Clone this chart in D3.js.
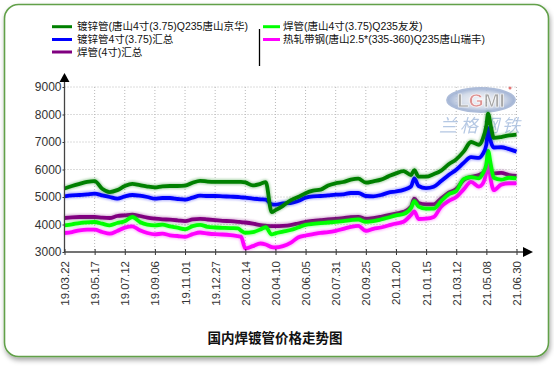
<!DOCTYPE html>
<html><head><meta charset="utf-8">
<script src="https://cdn.jsdelivr.net/npm/d3@7"></script>
<style>
html,body{margin:0;padding:0;background:#fff;}
svg{display:block;}
</style></head>
<body>
<svg id="c" width="554" height="369"></svg>
<script>
// ---------- DATA ----------
const tickLabels = ["19.03.22","19.05.17","19.07.12","19.09.06","19.11.01","19.12.27","20.02.14","20.04.10","20.06.05","20.07.31","20.09.25","20.11.20","21.01.15","21.03.12","21.05.08","21.06.30"];
const tickDates = ["2019-03-22","2019-05-17","2019-07-12","2019-09-06","2019-11-01","2019-12-27","2020-02-14","2020-04-10","2020-06-05","2020-07-31","2020-09-25","2020-11-20","2021-01-15","2021-03-12","2021-05-08","2021-06-30"];
const yTicks = [3000,4000,5000,6000,7000,8000,9000];
const dates = ["2019-03-22","2019-04-05","2019-04-19","2019-05-03","2019-05-17","2019-05-31","2019-06-14","2019-06-28","2019-07-12","2019-07-26","2019-08-09","2019-08-23","2019-09-06","2019-09-20","2019-10-04","2019-10-18","2019-11-01","2019-11-15","2019-11-29","2019-12-13","2019-12-27","2020-01-08","2020-01-21","2020-02-02","2020-02-07","2020-02-14","2020-02-28","2020-03-13","2020-03-23","2020-04-03","2020-04-10","2020-04-24","2020-05-08","2020-05-22","2020-06-05","2020-06-19","2020-07-03","2020-07-17","2020-07-31","2020-08-14","2020-08-28","2020-09-11","2020-09-25","2020-10-09","2020-10-23","2020-11-06","2020-11-20","2020-12-04","2020-12-18","2020-12-24","2021-01-01","2021-01-15","2021-01-29","2021-02-12","2021-02-26","2021-03-12","2021-03-26","2021-04-09","2021-04-24","2021-05-01","2021-05-08","2021-05-11","2021-05-16","2021-05-21","2021-06-03","2021-06-17","2021-06-30"];
const seriesNames = ["镀锌管(唐山4寸(3.75)Q235唐山京华)","镀锌管4寸(3.75)汇总","焊管(4寸)汇总","焊管(唐山4寸(3.75)Q235友发)","热轧带钢(唐山2.5*(335-360)Q235唐山瑞丰)"];
const colors = ["#008000","#0000ff","#800080","#00ff00","#ff00ff"];
const galvJinghua = [5310,5400,5480,5550,5580,5300,5180,5250,5400,5480,5430,5380,5350,5390,5400,5400,5410,5520,5590,5560,5550,5550,5550,5550,5550,5530,5420,5480,5540,4450,4520,4680,4880,5000,5140,5230,5266,5420,5500,5545,5630,5670,5520,5570,5630,5750,5860,5940,5800,5980,5740,5740,5830,5960,6190,6370,6650,7000,6900,7100,7600,8030,7560,7150,7180,7240,7270];
const galvSummary = [5024,5060,5073,5097,5121,5060,5000,4940,5024,5073,5048,5000,4940,4964,4964,4927,4903,4976,5048,5036,5036,5024,5012,5000,4988,4976,4940,4915,4903,4733,4721,4770,4780,4854,4976,5024,5036,5060,5085,5097,5145,5145,5036,5024,5073,5157,5200,5260,5380,5680,5400,5320,5370,5580,5800,5990,6240,6450,6420,6560,6900,7500,7000,6800,6810,6740,6650];
const weldSummary = [4236,4260,4272,4272,4272,4248,4236,4309,4333,4357,4309,4248,4212,4188,4176,4151,4121,4182,4206,4182,4158,4133,4121,4097,4085,4073,4036,3976,3955,3940,3939,3952,3980,4036,4097,4133,4158,4182,4206,4230,4267,4279,4206,4230,4279,4339,4400,4460,4650,4940,4780,4730,4730,4950,5160,5290,5620,5730,5800,5870,6000,6270,5950,5860,5880,5800,5770];
const weldYoufa = [3970,4006,4054,4079,4091,4030,3970,4054,4115,4273,4091,3994,3970,3994,3933,3885,3830,3940,3988,3915,3891,3879,3867,3860,3780,3700,3720,3820,3900,3640,3680,3740,3800,3891,3988,4024,4048,4073,4097,4121,4158,4182,4097,4121,4182,4255,4330,4380,4600,4850,4650,4575,4575,4850,5100,5220,5650,5720,5680,5850,6200,6680,6150,5700,5630,5700,5680];
const stripRuifeng = [3691,3727,3788,3812,3812,3727,3667,3764,3885,3933,3788,3691,3642,3667,3606,3582,3552,3648,3709,3673,3648,3636,3612,3576,3560,3130,3212,3309,3273,3180,3164,3212,3330,3527,3600,3648,3697,3721,3770,3842,3915,3952,3770,3842,3891,3964,4036,4100,4350,4480,4200,4210,4270,4650,4860,5000,5280,5550,5380,5480,5900,6270,5600,5250,5450,5500,5500];
const titleText = "国内焊镀管价格走势图";

// ---------- SETUP ----------
const svg = d3.select("#c");
const parse = d3.timeParse("%Y-%m-%d");
const X0 = 64.5, X1 = 516.5;
const tds = tickDates.map(parse);
const x = d3.scaleTime().domain(tds)
  .range(tds.map((d,i)=> X0 + i*(X1-X0)/(tds.length-1)));
const y = d3.scaleLinear().domain([3000,9000]).range([252,87]);

const defs = svg.append("defs");
const sh = defs.append("filter").attr("id","sh").attr("x","-5%").attr("y","-5%").attr("width","110%").attr("height","115%");
sh.append("feDropShadow").attr("dx",1).attr("dy",3).attr("stdDeviation",2.5).attr("flood-color","#000").attr("flood-opacity",0.35);
const gl = defs.append("filter").attr("id","gl").attr("x","-5%").attr("y","-20%").attr("width","110%").attr("height","140%");
gl.append("feGaussianBlur").attr("stdDeviation",0.9);
const lg = defs.append("radialGradient").attr("id","logoG");
lg.append("stop").attr("offset","0%").attr("stop-color","#f4f6fa");
lg.append("stop").attr("offset","65%").attr("stop-color","#cdd6e6");
lg.append("stop").attr("offset","100%").attr("stop-color","#8fa4cc");

// frame
svg.append("rect").attr("x",4.5).attr("y",4.5).attr("width",544).attr("height",352).attr("rx",14)
  .attr("fill","#fff").attr("stroke","#62a04a").attr("stroke-width",1.6).attr("filter","url(#sh)");

// grid
const g = svg.append("g");
g.selectAll(".hg").data(yTicks.slice(1)).join("line")
  .attr("x1",X0).attr("x2",X1).attr("y1",d=>y(d)).attr("y2",d=>y(d))
  .attr("stroke","#b8b8b8").attr("stroke-dasharray","1,2");
g.selectAll(".vg").data(tds.slice(1)).join("line")
  .attr("x1",d=>x(d)).attr("x2",d=>x(d)).attr("y1",y(9000)).attr("y2",y(3000))
  .attr("stroke","#b8b8b8").attr("stroke-dasharray","1,2");

// watermark logo
const logo = svg.append("g").attr("opacity",0.85);
logo.append("ellipse").attr("cx",481).attr("cy",100).attr("rx",34).attr("ry",12).attr("fill","url(#logoG)").attr("stroke","#9fb1d3").attr("stroke-width",1.8);
const lt = logo.append("text").attr("x",481).attr("y",107).attr("text-anchor","middle")
  .attr("font-family","Liberation Sans, Arial").attr("font-weight","bold").attr("font-size",19).attr("fill","#9a9a9a")
  .attr("stroke","#ffffff").attr("stroke-width",0.6);
lt.append("tspan").text("L");
lt.append("tspan").attr("fill","#d98080").text("G");
lt.append("tspan").text("MI");
logo.append("circle").attr("cx",510).attr("cy",88).attr("r",1.5).attr("fill","#e06060");
logo.append("text").attr("x",481).attr("y",132).attr("text-anchor","middle")
  .attr("font-family","Noto Sans CJK SC").attr("font-size",18).attr("fill","#a9bfdf").attr("letter-spacing",3)
  .attr("font-style","italic").text("兰格钢铁");

// lines
const series = [weldSummary, stripRuifeng, weldYoufa, galvSummary, galvJinghua];
const sColors = [colors[2], colors[4], colors[3], colors[1], colors[0]];
const line = d3.line().x((d,i)=>x(parse(dates[i]))).y(d=>y(d)).curve(d3.curveMonotoneX);
series.forEach((s,k)=>{
  svg.append("path").datum(s).attr("d",line).attr("fill","none")
    .attr("stroke",sColors[k]).attr("stroke-width",6).attr("opacity",0.3).attr("filter","url(#gl)");
  svg.append("path").datum(s).attr("d",line).attr("fill","none")
    .attr("stroke",sColors[k]).attr("stroke-width",3.8).attr("stroke-linejoin","round");
});

// y axis
const yA = svg.append("g").attr("transform",`translate(${X0},0)`)
  .call(d3.axisLeft(y).tickValues(yTicks).tickSize(2).tickPadding(1).tickFormat(d3.format("d")));
yA.select(".domain").remove();
yA.selectAll("line").attr("stroke","#333");
yA.selectAll("text").attr("font-family","Liberation Sans, Arial").attr("font-size",12).attr("fill","#333");
svg.append("line").attr("x1",X0).attr("x2",X0).attr("y1",80).attr("y2",252.5).attr("stroke","#444").attr("stroke-width",1.3);
svg.append("path").attr("d",`M${X0-5},82 L${X0},73 L${X0+5},82 Z`).attr("fill","#000");

// x axis
const xA = svg.append("g").attr("transform",`translate(0,${y(3000)})`)
  .call(d3.axisBottom(x).tickValues(tds).tickSize(3).tickFormat((d,i)=>tickLabels[i]));
xA.select(".domain").remove();
xA.selectAll("line").attr("y1",-3).attr("stroke","#333");
xA.selectAll("text").attr("font-family","Liberation Sans, Arial").attr("font-size",11.5).attr("fill","#333")
  .attr("text-anchor","end").attr("transform","translate(0,7) rotate(-90)").attr("x",-2).attr("y",0).attr("dy","0.35em");
svg.append("line").attr("x1",X0).attr("x2",526).attr("y1",y(3000)).attr("y2",y(3000)).attr("stroke","#444").attr("stroke-width",1.3);
svg.append("path").attr("d",`M523,${y(3000)-5} L533,${y(3000)} L523,${y(3000)+5} Z`).attr("fill","#000");

// legend
const leg = svg.append("g").attr("font-family","Liberation Sans, Arial, Noto Sans CJK SC").attr("font-size",10.5).attr("fill","#111");
const legPos = [[52,26.7,0],[52,39.5,1],[52,52,2],[263,26.7,3],[263,39.5,4]];
legPos.forEach(([lx,ly,k])=>{
  leg.append("line").attr("x1",lx).attr("x2",lx+ (k<3?20:17)).attr("y1",ly).attr("y2",ly).attr("stroke",colors[k]).attr("stroke-width",3);
  leg.append("text").attr("x",lx+(k<3?25:20)).attr("y",ly).attr("dy","0.36em").text(seriesNames[k]);
});
svg.append("line").attr("x1",259.5).attr("x2",259.5).attr("y1",29).attr("y2",66).attr("stroke","#000").attr("stroke-width",1.3);

// title
svg.append("text").attr("x",275).attr("y",338).attr("text-anchor","middle").attr("dy","0.35em")
  .attr("font-family","Noto Sans CJK SC").attr("font-weight","bold").attr("font-size",13.5).attr("fill","#111")
  .text(titleText);
</script>
</body></html>
